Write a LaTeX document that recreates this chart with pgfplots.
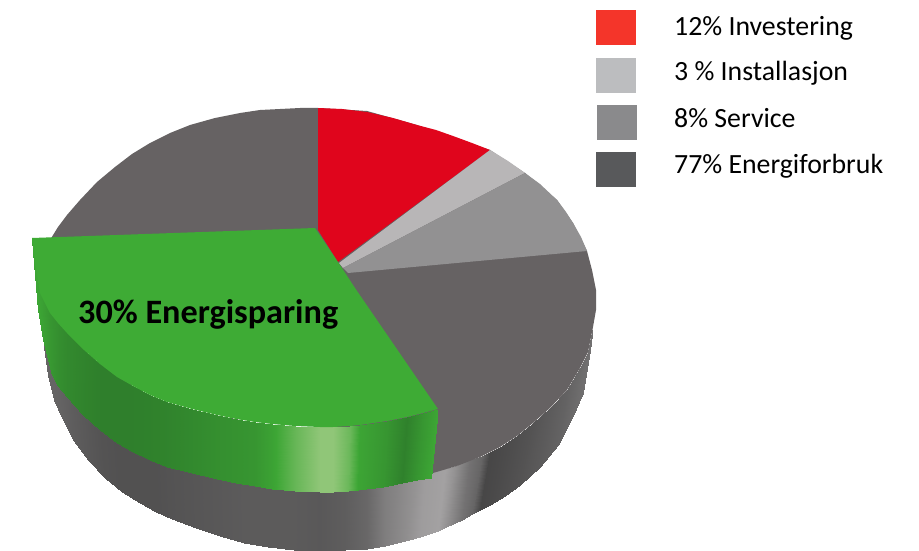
\documentclass[border=0pt]{standalone}
\usepackage{fontspec}
\setmainfont{Carlito}
\usepackage{pgfplots}
\pgfplotsset{compat=1.18}

\definecolor{topdark}{HTML}{666263}
\definecolor{topred}{HTML}{E0051C}
\definecolor{toplight}{HTML}{B8B6B7}
\definecolor{topservice}{HTML}{929192}
\definecolor{topgreen}{HTML}{3EAB35}

\pgfplotsset{
  colormap={greens}{rgb255(0cm)=(46,125,43); rgb255(1cm)=(61,166,53); rgb255(2cm)=(144,198,120)},
  colormap={greys}{rgb255(0cm)=(0,0,0); rgb255(1cm)=(255,252,253)},
}

\begin{document}
\begin{tikzpicture}
\begin{axis}[
    scale only axis,
    width=919pt, height=551pt,
    xmin=0, xmax=919, ymin=0, ymax=551,
    y dir=reverse,
    hide axis,
    point meta min=0, point meta max=1,
]
% keeps the page as large as the axis
\addplot[fill=white, draw=none] coordinates {(0,0) (919,0) (919,551) (0,551)} --cycle;
% grey rim, lightness in c
\addplot[surf, shader=interp, colormap name=greys, mesh/ordering=y varies, mesh/rows=2, point meta=explicit]
  table[x=x, y=y, meta=c] {
x y c
40 293 .40
44 347 .40
45 305 .40
48 375 .40
50 313 .40
54 400 .40
58 325 .39
62 418 .39
67 333 .37
73 440 .37
80 347 .35
88 460 .35
95 360 .33
105 478 .33
115 375 .32
122 492 .32
133 386 .32
140 503 .32
150 395 .32
156 512 .32
167 402 .33
172 519 .33
192 409 .34
196 528 .34
217 415 .35
220 536 .35
242 420 .36
244 543 .36
267 424 .36
268 547 .36
294 426 .36
294 550 .36
320 427 .35
320 551 .35
345 426 .37
345 550 .37
367 425 .41
367 549 .41
385 422 .50
385 546 .50
410 418 .56
405 541 .56
430 412 .62
420 537 .62
445 469 .64
438 531 .64
455 466 .58
446 527 .58
470 460 .45
462 520 .45
482 456 .40
472 514 .40
490 452 .28
480 510 .28
500 447 .29
490 505 .29
517 436 .31
505 496 .31
533 423 .33
520 485 .33
550 408 .36
540 467 .36
567 390 .39
558 445 .39
580 368 .42
572 418 .42
588 352 .44
583 393 .44
593 327 .45
590 350 .45
};
% top face
\addplot[fill=topdark, draw=none] coordinates {
  (300,108) (318,108) (367,111) (417,125) (490,150) (525,173) (557,200) (573,223) (587,251)
  (592,270) (596,290) (596,310) (593,327) (588,352) (580,368) (567,390) (550,408) (533,423)
  (517,436) (500,447) (480,457) (457,466) (433,473) (320,426) (100,363) (40,293) (50,240)
  (58,227) (67,215) (80,200) (97,182) (115,167) (132,154) (150,143) (170,133) (190,125)
  (215,118) (240,113) (260,110) (280,109)
} --cycle;
\addplot[fill=topred, draw=none] coordinates {
  (318,108) (342,109) (367,112) (393,118) (417,125) (436,130) (453,136) (472,143) (490,150) (338,262) (318,230)
} --cycle;
\addplot[fill=toplight, draw=none] coordinates {
  (490,150) (508,161) (525,173) (343,268) (339,263)
} --cycle;
\addplot[fill=topservice, draw=none] coordinates {
  (525,173) (540,184) (557,200) (566,212) (573,223) (581,237) (587,251) (348,273) (343,268)
} --cycle;
% pulled out green slice
\addplot[surf, shader=interp, colormap name=greens, mesh/ordering=y varies, mesh/rows=2, point meta=explicit]
  table[x=x, y=y, meta=c] {
x y c
32 238 .50
32 240 .50
36 270 .50
38 310 .50
40 293 .45
43 340 .45
50 313 .30
52 375 .30
58 323 .22
58 386 .22
67 333 .15
67 397 .15
84 350 .08
83 415 .08
100 364 .03
100 430 .03
117 377 .03
117 443 .03
133 386 .03
133 452 .03
150 395 .05
150 460 .05
167 402 .08
167 467 .08
192 409 .15
192 473 .15
217 415 .22
217 479 .22
236 419 .26
236 483 .26
255 422 .30
255 486 .30
272 424 .45
272 489 .45
295 426 .75
295 491 .75
320 427 1
320 492 1
333 427 1
333 492 1
350 426 .78
348 491 .78
360 425 .48
358 490 .48
387 421 .30
383 487 .30
407 417 .05
402 483 .05
423 413 .30
417 480 .30
438 409 .50
431 478 .50
};
\addplot[fill=topgreen, draw=none] coordinates {
  (32,238) (315,228) (338,262) (355,288) (438,409) (423,413) (407,417) (387,421)
  (360,425) (350,426) (333,427) (320,427) (295,426) (272,424) (255,422) (236,419) (217,415)
  (192,409) (167,402) (150,395) (133,386) (117,377) (100,364) (84,350) (67,333) (58,323)
  (50,313) (40,293) (36,270)
} --cycle;
% legend
\addplot[fill={rgb,255:red,244;green,53;blue,42}, draw=none] coordinates {(596,10) (636,10) (636,45) (596,45)} --cycle;
\addplot[fill={rgb,255:red,188;green,189;blue,191}, draw=none] coordinates {(596,58) (636,58) (636,93) (596,93)} --cycle;
\addplot[fill={rgb,255:red,138;green,138;blue,140}, draw=none] coordinates {(597,105) (637,105) (637,140) (597,140)} --cycle;
\addplot[fill={rgb,255:red,88;green,89;blue,91}, draw=none] coordinates {(596,152) (636,152) (636,187) (596,187)} --cycle;

\node[anchor=base west, font=\fontsize{27.8}{32}\selectfont, inner sep=0pt] at (axis cs:674,36) {12\% Investering};
\node[anchor=base west, font=\fontsize{27.8}{32}\selectfont, inner sep=0pt] at (axis cs:674,81) {3 \% Installasjon};
\node[anchor=base west, font=\fontsize{27.8}{32}\selectfont, inner sep=0pt] at (axis cs:674,127) {8\% Service};
\node[anchor=base west, font=\fontsize{27.8}{32}\selectfont, inner sep=0pt] at (axis cs:674,173) {77\% Energiforbruk};
\node[anchor=base west, font=\fontsize{34.2}{40}\selectfont\bfseries, inner sep=0pt] at (axis cs:78,323) {30\% Energisparing};
\end{axis}
\end{tikzpicture}
\end{document}
